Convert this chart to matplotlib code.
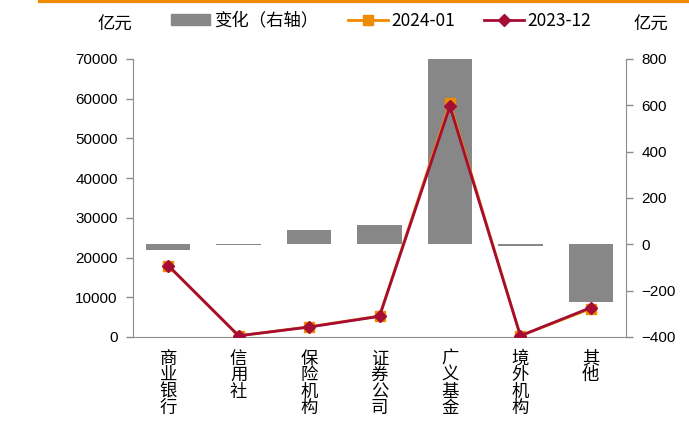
import matplotlib.pyplot as plt
from matplotlib.lines import Line2D
import numpy as np

plt.rcParams['font.family'] = ['Liberation Sans', 'Noto Sans CJK SC', 'DejaVu Sans']

# 各机构托管量（亿元）与月度变化
categories = ["商业银行", "信用社", "保险机构", "证券公司", "广义基金", "境外机构", "其他"]
hold_2024_01 = [17975, 297, 2560, 5285, 58900, 292, 7150]
hold_2023_12 = [18000, 300, 2500, 5200, 58100, 300, 7400]
change = [-25, -3, 60, 85, 800, -8, -250]

gray = "#878787"
orange = "#F08A00"
red = "#A50D35"
spine_c = "#8C8C8C"
cjk = ["Noto Sans CJK SC", "DejaVu Sans"]

fig = plt.figure(figsize=(6.89, 4.30), dpi=100)
ax2 = fig.add_axes([0.193, 0.2163, 0.7156, 0.6465])
ax = ax2.twinx()
ax.yaxis.tick_left()
ax2.yaxis.tick_right()
ax.set_zorder(ax2.get_zorder() + 1)
ax.patch.set_visible(False)

x = np.arange(len(categories))

# 柱：变化（右轴）
ax2.bar(x, change, width=0.63, color=gray, zorder=2)
ax2.set_ylim(-400, 800)
ax2.set_yticks(range(-400, 801, 200))

# 折线：余额（左轴）
ax.plot(x, hold_2024_01, color=orange, lw=2, marker="s", ms=6.5, zorder=3)
ax.plot(x, hold_2023_12, color=red, lw=2, marker="D", ms=6, zorder=4)
ax.set_ylim(0, 70000)
ax.set_yticks(range(0, 70001, 10000))
ax.set_xlim(-0.5, len(categories) - 0.5)

for a in (ax, ax2):
    for s in a.spines.values():
        s.set_visible(False)
    a.tick_params(axis="y", colors=spine_c, labelcolor="black", labelsize=11,
                  length=5, width=1, pad=6)
ax.spines["left"].set_visible(True)
ax.spines["left"].set_color(spine_c)
ax2.spines["right"].set_visible(True)
ax2.spines["right"].set_color(spine_c)
ax2.spines["bottom"].set_visible(True)
ax2.spines["bottom"].set_color(spine_c)

# x 轴：刻度线在类别之间，标签竖排
ax2.set_xticks(np.arange(-0.5, len(categories), 1))
ax2.set_xticklabels([])
ax2.tick_params(axis="x", colors=spine_c, length=5, width=1, direction="out")
ax.set_xticks([])
for i, name in enumerate(categories):
    ax2.text(i, -0.045, "\n".join(name), transform=ax2.get_xaxis_transform(),
             ha="center", va="top", fontsize=12.5, linespacing=0.9, family=cjk)

# 单位
fig.text(0.167, 0.942, "亿元", ha="center", va="center", fontsize=12.5, family=cjk)
fig.text(0.944, 0.942, "亿元", ha="center", va="center", fontsize=12.5, family=cjk)

# 图例
handles = [
    plt.Rectangle((0, 0), 1, 1, color=gray),
    Line2D([0], [0], color=orange, lw=2, marker="s", ms=6.5),
    Line2D([0], [0], color=red, lw=2, marker="D", ms=6),
]
labels = ["变化（右轴）", "2024-01", "2023-12"]
fig.legend(handles, labels, loc="center", bbox_to_anchor=(0.553, 0.952), ncol=3,
           frameon=False, handlelength=2.3, handleheight=0.6,
           handletextpad=0.2, columnspacing=1.7,
           prop={"family": cjk, "size": 12.5})

# 顶部装饰线
fig.add_artist(Line2D([0.058, 1.0], [0.997, 0.997], color="#F08A00", lw=3,
                      transform=fig.transFigure))

fig.savefig("out.png", dpi=100)
